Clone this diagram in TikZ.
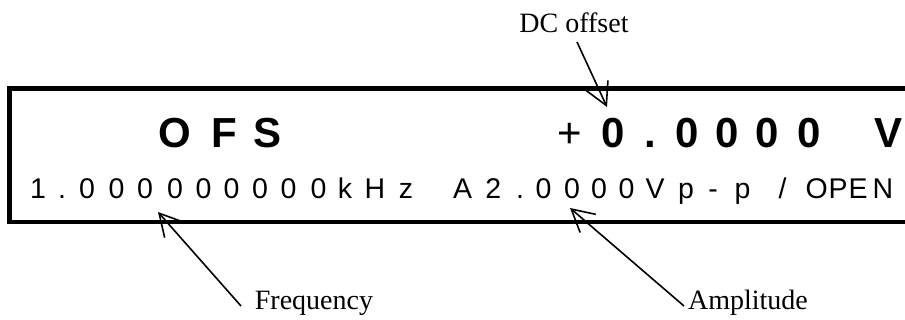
\documentclass[tikz,border=0pt]{standalone}
\usepackage{fontspec}
\setmainfont{Liberation Serif}
\newfontfamily\dispfont{Liberation Sans}
\usetikzlibrary{arrows.meta}
\tikzset{
  bigc/.style={inner sep=0pt, anchor=base, font=\dispfont\bfseries\fontsize{42}{44}\selectfont},
  bigr/.style={inner sep=0pt, anchor=base, font=\dispfont\fontsize{42}{44}\selectfont},
  smallc/.style={inner sep=0pt, anchor=base, font=\dispfont\fontsize{28.5}{30}\selectfont},
  lbl/.style={inner sep=0pt, anchor=base, font=\fontsize{28}{30}\selectfont},
  frame/.style={line width=4.6pt, miter limit=10},
  pointer/.style={line width=1.6pt, -{Straight Barb[length=22pt,width=24pt,line width=1.6pt]}}
}
\begin{document}
\begin{tikzpicture}[x=1pt,y=-1pt]
\useasboundingbox (0,0) rectangle (905,320);
% display frame
\draw[frame] (910,88.3) -- (9.7,88.3) -- (9.7,222) -- (910,222);
% top line
\foreach \x/\c [count=\i] in {174.5/O,224/F,268/S}
  \node[bigc] (t\i) at (\x,147.5) {\c};
\node[bigr] (plus) at (570,147.5) {+};
\foreach \x/\c [count=\i] in {613/0,650/.,687.5/0,727.5/0,767.5/0,809/0,888/V}
  \node[bigc] (v\i) at (\x,147.5) {\c};
% bottom line
\foreach \x/\c [count=\i] in {38/1,62/.,87/0,116.5/0,145/0,175/0,203.5/0,231.5/0,260/0,288.5/0,318.5/0,345/k,375/H,406/z,462.5/A,493.3/2,520/.,543.5/0,572/0,599/0,626.5/0,655/V,686/p,713/-,742.5/p}
  \node[smallc] (b\i) at (\x,199) {\c};
\node[smallc] (slash) at (782.5,199) {/};
\foreach \x/\c [count=\i] in {816.7/O,838/P,858/E,883/N}
  \node[smallc] (o\i) at (\x,199) {\c};
% labels
\node[lbl] (dc) at (574,33) {DC offset};
\node[lbl] (freq) at (314,310) {Frequency};
\node[lbl] (amp) at (748,310) {Amplitude};
% connectors
\coordinate (dctail) at (577,42);
\coordinate (dctip) at (607,107);
\coordinate (frtail) at (241,306);
\coordinate (frtip) at (158,212);
\coordinate (amtail) at (684,306);
\coordinate (amtip) at (570,208);
\draw[pointer] (dctail) -- (dctip);
\draw[pointer] (frtail) -- (frtip);
\draw[pointer] (amtail) -- (amtip);
\end{tikzpicture}
\end{document}
